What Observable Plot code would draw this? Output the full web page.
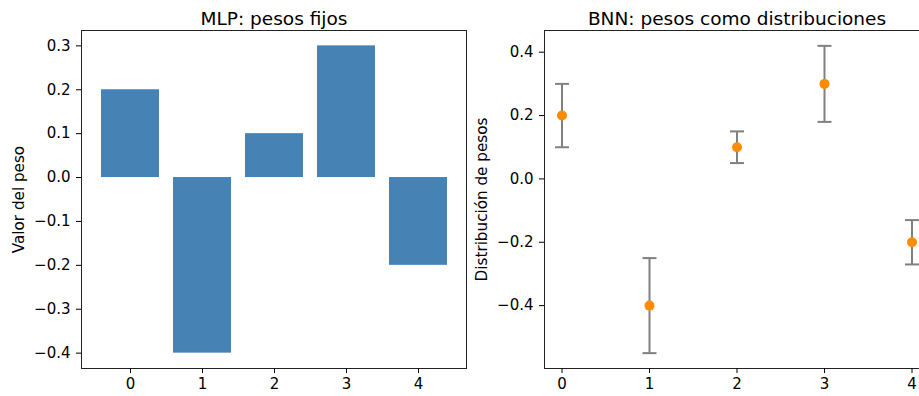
<!DOCTYPE html>
<html>
<head>
<meta charset="utf-8">
<script src="https://cdn.jsdelivr.net/npm/d3@7"></script>
<script src="https://cdn.jsdelivr.net/npm/@observablehq/plot@0.6"></script>
<style>
  html, body { margin: 0; padding: 0; background: #fff; overflow: hidden; }
  #wrap { position: relative; width: 919px; height: 396px; overflow: hidden; }
  #left, #right { position: absolute; top: 0; width: 480px; }
  #left { left: 0; }
  #right { left: 470px; }
  svg { max-width: none !important; }
</style>
</head>
<body>
<div id="wrap"><div id="left"></div><div id="right"></div></div>
<script>
const categories = [0, 1, 2, 3, 4];
const mlpWeights = [0.2, -0.4, 0.1, 0.3, -0.2];
const bnnMeans = [0.2, -0.4, 0.1, 0.3, -0.2];
const bnnStd = [0.1, 0.15, 0.05, 0.12, 0.07];
const leftTicks = [-0.4, -0.3, -0.2, -0.1, 0.0, 0.1, 0.2, 0.3];
const rightTicks = [-0.4, -0.2, 0.0, 0.2, 0.4];
const leftTitle = "MLP: pesos fijos";
const rightTitle = "BNN: pesos como distribuciones";
const leftYLabel = "Valor del peso";
const rightYLabel = "Distribución de pesos";

const mlp = categories.map((c, i) => ({c, w: mlpWeights[i]}));
const bnn = categories.map((c, i) => ({c, m: bnnMeans[i], lo: bnnMeans[i] - bnnStd[i], hi: bnnMeans[i] + bnnStd[i]}));

function pad(lo, hi) { const m = (hi - lo) * 0.05; return [lo - m, hi + m]; }
const leftY = pad(Math.min(0, d3.min(mlpWeights)), Math.max(0, d3.max(mlpWeights)));
const rightY = pad(d3.min(bnn, d => d.lo), d3.max(bnn, d => d.hi));
const rightX = pad(d3.min(categories), d3.max(categories));

const fmt = d3.format(".1f");
const font = "DejaVu Sans, sans-serif";
const capSymbol = { draw(ctx) { ctx.moveTo(-7, 0); ctx.lineTo(7, 0); } };

function yLabel(text) {
  return Plot.text([text], {text: d => d, frameAnchor: "left", textAnchor: "middle", lineAnchor: "middle",
    rotate: -90, dx: -62, fontSize: 15.2, fill: "black"});
}
function title(text) {
  return Plot.text([text], {text: d => d, frameAnchor: "top", lineAnchor: "bottom", dy: -6, fontSize: 18.5, fill: "black"});
}

const left = Plot.plot({
  width: 470, height: 396,
  marginLeft: 81, marginRight: 4, marginTop: 30, marginBottom: 28,
  style: {fontFamily: font, fontSize: "15px", color: "black", background: "white", maxWidth: "none"},
  x: {type: "band", domain: categories, paddingInner: 0.2, paddingOuter: 0.24},
  y: {domain: leftY},
  marks: [
    Plot.barY(mlp, {x: "c", y: "w", fill: "#4682b4"}),
    Plot.frame({stroke: "#222", strokeWidth: 1}),
    Plot.axisX({tickSize: 5, tickPadding: 5, label: null}),
    Plot.axisY({ticks: leftTicks, tickFormat: fmt, tickSize: 5, tickPadding: 6, label: null}),
    yLabel(leftYLabel),
    title(leftTitle)
  ]
});
document.getElementById("left").appendChild(left);

const right = Plot.plot({
  width: 462, height: 396,
  marginLeft: 74, marginRight: 3, marginTop: 30, marginBottom: 28,
  style: {fontFamily: font, fontSize: "15px", color: "black", background: "white", maxWidth: "none"},
  x: {domain: rightX},
  y: {domain: rightY},
  marks: [
    Plot.ruleX(bnn, {x: "c", y1: "lo", y2: "hi", stroke: "#808080", strokeWidth: 2}),
    Plot.dot(bnn, {x: "c", y: "lo", symbol: capSymbol, r: 5, stroke: "#808080", strokeWidth: 2}),
    Plot.dot(bnn, {x: "c", y: "hi", symbol: capSymbol, r: 5, stroke: "#808080", strokeWidth: 2}),
    Plot.dot(bnn, {x: "c", y: "m", r: 5, fill: "#ff8c00", stroke: "none"}),
    Plot.frame({stroke: "#222", strokeWidth: 1}),
    Plot.axisX({ticks: categories, tickFormat: d3.format("d"), tickSize: 5, tickPadding: 5, label: null}),
    Plot.axisY({ticks: rightTicks, tickFormat: fmt, tickSize: 5, tickPadding: 6, label: null}),
    yLabel(rightYLabel),
    title(rightTitle)
  ]
});
document.getElementById("right").appendChild(right);
</script>
</body>
</html>
